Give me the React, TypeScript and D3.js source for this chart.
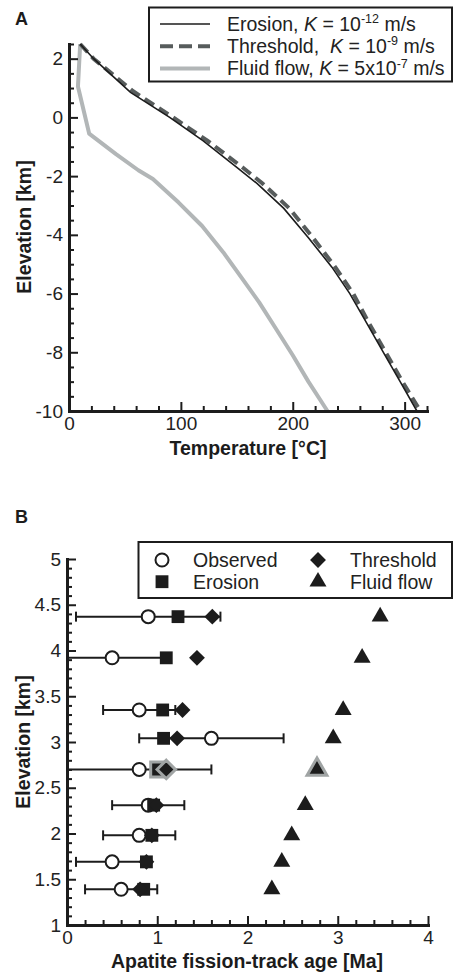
import React, { useEffect, useRef } from "react";
import * as d3 from "d3";

const FONT = "'Liberation Sans', Arial, Helvetica, sans-serif";
const INK = "#1c1c1c";
const DASHED = "#575c5c";
const FLUID = "#b2b6b7";
const HILITE = "#a0a4a4";

// Panel A: temperature [°C] vs elevation [km]
const erosionT = [10, 22, 55, 90, 120, 150, 168, 192, 214, 235, 251, 266, 281, 296, 311];
const erosionZ = [2.5, 2.0, 0.85, 0, -0.8, -1.7, -2.25, -3.1, -4.1, -5.1, -6.0, -7.0, -8.0, -9.0, -10];
const thresholdT = [10, 22, 57, 93, 124, 155, 173, 197, 218, 238, 254, 268, 283, 298, 314];
const thresholdZ = [2.5, 2.0, 0.9, 0, -0.8, -1.7, -2.25, -3.1, -4.1, -5.1, -6.0, -7.0, -8.0, -9.0, -10];
const fluidT = [10, 8, 18, 42, 62, 75, 98, 119, 138, 155, 170, 185, 200, 214, 231];
const fluidZ = [2.5, 1.05, -0.55, -1.25, -1.8, -2.1, -2.9, -3.7, -4.6, -5.5, -6.3, -7.2, -8.1, -9.0, -10];

const tempMajor = [0, 100, 200, 300];
const elevMajorA = [-10, -8, -6, -4, -2, 0, 2];

// Panel B: apatite fission-track ages [Ma] per sample elevation [km]
const sampleElev = [4.37, 3.92, 3.35, 3.04, 2.7, 2.31, 1.98, 1.69, 1.39];
const observedAge = [0.9, 0.5, 0.8, 1.6, 0.8, 0.9, 0.8, 0.5, 0.6];
const observedErr = [0.8, 0.6, 0.4, 0.8, 0.8, 0.4, 0.4, 0.4, 0.4];
const erosionAge = [1.23, 1.1, 1.06, 1.07, 1.01, 0.96, 0.94, 0.88, 0.85];
const thresholdAge = [1.61, 1.44, 1.28, 1.22, 1.1, 0.99, 0.94, 0.88, 0.81];
const fluidAge = [3.47, 3.27, 3.06, 2.95, 2.77, 2.64, 2.49, 2.38, 2.27];
const highlighted = 4;

const ageMajor = [0, 1, 2, 3, 4];
const elevMajorB = [1, 1.5, 2, 2.5, 3, 3.5, 4, 4.5, 5];

type Part = { t: string; italic?: boolean; sup?: boolean };
const legendA: Part[][] = [
  [{ t: "Erosion, " }, { t: "K", italic: true }, { t: " = 10" }, { t: "-12", sup: true }, { t: " m/s" }],
  [{ t: "Threshold,  " }, { t: "K", italic: true }, { t: " = 10" }, { t: "-9", sup: true }, { t: " m/s" }],
  [{ t: "Fluid flow, " }, { t: "K", italic: true }, { t: " = 5x10" }, { t: "-7", sup: true }, { t: " m/s" }],
];
const legendB = ["Observed", "Erosion", "Threshold", "Fluid flow"];

function range(a: number, b: number, step: number) {
  const out: number[] = [];
  for (let i = 0; a + i * step <= b + 1e-9; i++) out.push(+(a + i * step).toFixed(4));
  return out;
}

function addAxis(svg: any, orient: "left" | "bottom", scale: any, majors: number[], minors: number[], pos: number) {
  const make = orient === "left" ? d3.axisLeft : d3.axisBottom;
  const transform = orient === "left" ? `translate(${pos},0)` : `translate(0,${pos})`;
  const minorG = svg
    .append("g")
    .attr("transform", transform)
    .call(make(scale).tickValues(minors).tickSizeInner(-5).tickSizeOuter(0).tickFormat(() => ""));
  minorG.select(".domain").remove();
  minorG.selectAll(".tick line").attr("stroke", INK).attr("stroke-width", 2);

  const g = svg
    .append("g")
    .attr("transform", transform)
    .call(
      make(scale)
        .tickValues(majors)
        .tickSizeInner(-9)
        .tickSizeOuter(0)
        .tickPadding(orient === "left" ? 6 : 5.5)
        .tickFormat((d: any) => String(d))
    );
  g.select(".domain").attr("stroke", INK).attr("stroke-width", 3).attr("stroke-linecap", "square");
  g.selectAll(".tick line").attr("stroke", INK).attr("stroke-width", 2);
  g.selectAll("text").attr("font-family", FONT).attr("font-size", 19).attr("fill", "#222");
}

function legendText(g: any, x: number, y: number, parts: Part[]) {
  const text = g
    .append("text")
    .attr("x", x)
    .attr("y", y)
    .attr("font-family", FONT)
    .attr("font-size", 19.5)
    .attr("fill", "#222")
    .style("white-space", "pre");
  let wasSup = false;
  parts.forEach((p) => {
    const ts = text.append("tspan").text(p.t);
    if (p.italic) ts.attr("font-style", "italic");
    if (p.sup) ts.attr("font-size", 12.5).attr("dy", -7.5);
    else if (wasSup) ts.attr("dy", 7.5);
    wasSup = !!p.sup;
  });
}

function drawPanelA(svg: any) {
  const x = d3.scaleLinear().domain([0, 320]).range([69, 427]);
  const y = d3.scaleLinear().domain([-10, 2.5]).range([411, 44]);

  svg.append("text").attr("x", 15).attr("y", 25).attr("font-family", FONT)
    .attr("font-size", 18).attr("font-weight", "bold").attr("fill", INK).text("A");

  const line = (T: number[], Z: number[]) =>
    d3.line<number>().x((d) => x(d)).y((_, i) => y(Z[i]))(T);

  svg.append("path").attr("d", line(fluidT, fluidZ)).attr("fill", "none")
    .attr("stroke", FLUID).attr("stroke-width", 4).attr("stroke-linejoin", "round");
  svg.append("path").attr("d", line(thresholdT, thresholdZ)).attr("fill", "none")
    .attr("stroke", DASHED).attr("stroke-width", 4).attr("stroke-dasharray", "11 6");
  svg.append("path").attr("d", line(erosionT, erosionZ)).attr("fill", "none")
    .attr("stroke", INK).attr("stroke-width", 1.6);

  addAxis(svg, "left", y, elevMajorA, range(-10, 2.5, 0.5).filter((v) => !elevMajorA.includes(v)), 69);
  addAxis(svg, "bottom", x, tempMajor, range(0, 320, 20).filter((v) => !tempMajor.includes(v)), 411);

  svg.append("text").attr("transform", "translate(31,227) rotate(-90)").attr("text-anchor", "middle")
    .attr("font-family", FONT).attr("font-size", 19.5).attr("font-weight", "bold").attr("fill", INK)
    .text("Elevation [km]");
  svg.append("text").attr("x", 248).attr("y", 455).attr("text-anchor", "middle")
    .attr("font-family", FONT).attr("font-size", 19.5).attr("font-weight", "bold").attr("fill", INK)
    .text("Temperature [°C]");

  // legend
  const lg = svg.append("g");
  lg.append("rect").attr("x", 149).attr("y", 7.5).attr("width", 303).attr("height", 74)
    .attr("fill", "#fff").attr("stroke", INK).attr("stroke-width", 2);
  const styles = [
    { stroke: INK, w: 1.6, dash: null },
    { stroke: DASHED, w: 4, dash: "13 6" },
    { stroke: FLUID, w: 4, dash: null },
  ];
  legendA.forEach((parts, i) => {
    const cy = 24 + i * 22.3;
    const s = styles[i];
    const l = lg.append("line").attr("x1", 160).attr("x2", 210).attr("y1", cy).attr("y2", cy)
      .attr("stroke", s.stroke).attr("stroke-width", s.w);
    if (s.dash) l.attr("stroke-dasharray", s.dash);
    legendText(lg, 227, cy + 6.5, parts);
  });
}

function marker(g: any, type: string, cx: number, cy: number, hi = false) {
  if (type === "circle") {
    g.append("circle").attr("cx", cx).attr("cy", cy).attr("r", 6.5)
      .attr("fill", "#fff").attr("stroke", INK).attr("stroke-width", 2);
    return;
  }
  const sym = type === "square" ? d3.symbolSquare : type === "diamond" ? d3.symbolDiamond2 : d3.symbolTriangle;
  const size = type === "square" ? 165 : type === "diamond" ? 160 : 125;
  g.append("path")
    .attr("d", d3.symbol(sym, hi ? size * 1.35 : size)())
    .attr("transform", `translate(${cx},${cy})`)
    .attr("fill", INK)
    .attr("stroke", hi ? HILITE : "none")
    .attr("stroke-width", hi ? 3 : 0)
    .attr("stroke-linejoin", "miter");
}

function drawPanelB(svg: any) {
  const x = d3.scaleLinear().domain([0, 4]).range([67, 428]);
  const y = d3.scaleLinear().domain([1, 5]).range([925, 559]);

  svg.append("text").attr("x", 15).attr("y", 523).attr("font-family", FONT)
    .attr("font-size", 18).attr("font-weight", "bold").attr("fill", INK).text("B");

  const g = svg.append("g");
  // error bars
  sampleElev.forEach((e, i) => {
    const lo = Math.max(0, observedAge[i] - observedErr[i]);
    const hi = observedAge[i] + observedErr[i];
    const cy = y(e);
    g.append("line").attr("x1", x(lo)).attr("x2", x(hi)).attr("y1", cy).attr("y2", cy)
      .attr("stroke", INK).attr("stroke-width", 2);
    [lo, hi].forEach((v) => {
      if (v <= 0) return;
      g.append("line").attr("x1", x(v)).attr("x2", x(v)).attr("y1", cy - 5).attr("y2", cy + 5)
        .attr("stroke", INK).attr("stroke-width", 2);
    });
  });
  sampleElev.forEach((e, i) => marker(g, "circle", x(observedAge[i]), y(e)));
  sampleElev.forEach((e, i) => marker(g, "square", x(erosionAge[i]), y(e), i === highlighted));
  sampleElev.forEach((e, i) => marker(g, "diamond", x(thresholdAge[i]), y(e), i === highlighted));
  sampleElev.forEach((e, i) => marker(g, "triangle", x(fluidAge[i]), y(e), i === highlighted));

  addAxis(svg, "left", y, elevMajorB, range(1, 5, 0.1).filter((v) => !elevMajorB.some((m) => Math.abs(m - v) < 1e-6)), 67);
  addAxis(svg, "bottom", x, ageMajor, range(0, 4, 0.2).filter((v) => !ageMajor.some((m) => Math.abs(m - v) < 1e-6)), 925);

  svg.append("text").attr("transform", "translate(30,742) rotate(-90)").attr("text-anchor", "middle")
    .attr("font-family", FONT).attr("font-size", 19.5).attr("font-weight", "bold").attr("fill", INK)
    .text("Elevation [km]");
  svg.append("text").attr("x", 247).attr("y", 968).attr("text-anchor", "middle")
    .attr("font-family", FONT).attr("font-size", 19.5).attr("font-weight", "bold").attr("fill", INK)
    .text("Apatite fission-track age [Ma]");

  // legend
  const lg = svg.append("g");
  lg.append("rect").attr("x", 138.5).attr("y", 542).attr("width", 313.5).attr("height", 56)
    .attr("fill", "#fff").attr("stroke", INK).attr("stroke-width", 2);
  const types = ["circle", "square", "diamond", "triangle"];
  legendB.forEach((label, i) => {
    const col = i < 2 ? 0 : 1;
    const row = i % 2 === 0 ? 0 : 1;
    const sx = col === 0 ? 162 : 318;
    const cy = row === 0 ? 560 : 581.7;
    marker(lg, types[[0, 1, 2, 3][i]], sx, cy);
    legendText(lg, col === 0 ? 193 : 350, cy + 7, [{ t: label }]);
  });
}

export default function App() {
  const ref = useRef<SVGSVGElement>(null);
  useEffect(() => {
    const svg = d3.select(ref.current);
    svg.selectAll("*").remove();
    drawPanelA(svg);
    drawPanelB(svg);
  }, []);
  return (
    <svg
      ref={ref}
      width={453}
      height={973}
      style={{ position: "absolute", left: 0, top: 0, background: "#fff" }}
    />
  );
}
